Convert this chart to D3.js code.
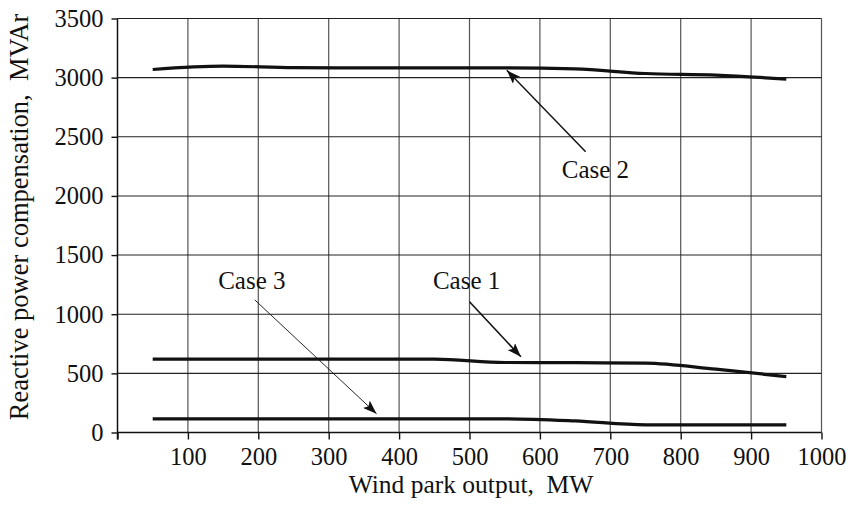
<!DOCTYPE html>
<html>
<head>
<meta charset="utf-8">
<script src="https://cdn.jsdelivr.net/npm/d3@7/dist/d3.min.js"></script>
<style>
  html, body { margin: 0; padding: 0; background: #fff; }
  svg { display: block; }
  text { font-family: "Liberation Serif", "Times New Roman", serif; fill: #111; }
</style>
</head>
<body>
<svg id="chart" width="851" height="510"></svg>
<script>
// ---- data ----
const windOutput = [50, 150, 250, 350, 450, 550, 650, 750, 850, 950];
const case1 = [620, 620, 620, 620, 620, 592, 590, 586, 535, 473];
const case2 = [3069, 3097, 3085, 3083, 3083, 3083, 3074, 3035, 3022, 2987];
const case3 = [116, 116, 116, 116, 116, 116, 98, 65, 65, 65];
const xTicks = [100, 200, 300, 400, 500, 600, 700, 800, 900, 1000];
const yTicks = [0, 500, 1000, 1500, 2000, 2500, 3000, 3500];
const xTitle = "Wind park output,  MW";
const yTitle = "Reactive power compensation,  MVAr";
// annotations: label, text anchor [x,y], arrow from [x,y], arrow to [x,y] (data units)
const annotations = [
  { label: "Case 2", text: [631, 2151], from: [665, 2373], to: [553, 3062], w: 1.5 },
  { label: "Case 3", text: [143, 1214], from: [195, 1121], to: [368, 158], w: 0.9 },
  { label: "Case 1", text: [448, 1214], from: [500, 1106], to: [573, 640], w: 1.6 }
];

// ---- layout ----
const svg = d3.select("#chart");
const x = d3.scaleLinear().domain([0, 1000]).range([117.5, 821.5]);
const y = d3.scaleLinear().domain([0, 3500]).range([432.5, 18.5]);

// gridlines
svg.append("g").selectAll("line.v").data(xTicks).join("line")
  .attr("x1", d => x(d)).attr("x2", d => x(d))
  .attr("y1", y(0)).attr("y2", y(3500))
  .attr("stroke", "#555").attr("stroke-width", 1.2);
svg.append("g").selectAll("line.h").data(yTicks.filter(d => d > 0)).join("line")
  .attr("x1", x(0)).attr("x2", x(1000))
  .attr("y1", d => y(d)).attr("y2", d => y(d))
  .attr("stroke", "#222").attr("stroke-width", 1.1);

// axes
const xAxis = svg.append("g").attr("transform", `translate(0,${y(0)})`)
  .call(d3.axisBottom(x).tickValues([0].concat(xTicks)).tickSize(7).tickPadding(8)
    .tickFormat(d => d === 0 ? "" : d3.format("d")(d)));
const yAxis = svg.append("g").attr("transform", `translate(${x(0)},0)`)
  .call(d3.axisLeft(y).tickValues(yTicks).tickSize(6).tickPadding(8).tickFormat(d3.format("d")));
[xAxis, yAxis].forEach(g => {
  g.select(".domain").remove();
  g.selectAll(".tick line").attr("stroke", "#111").attr("stroke-width", 1.4);
  g.selectAll(".tick text").style("font-family", "Liberation Serif, serif")
    .style("font-size", "24.5px").attr("fill", "#111");
});
svg.append("line").attr("x1", x(0)).attr("x2", x(0)).attr("y1", y(3500)).attr("y2", y(0) + 7)
  .attr("stroke", "#111").attr("stroke-width", 1.5);
svg.append("line").attr("x1", x(0)).attr("x2", x(1000)).attr("y1", y(0)).attr("y2", y(0))
  .attr("stroke", "#111").attr("stroke-width", 1.5);

// axis titles
svg.append("text").attr("x", 471).attr("y", 493).attr("text-anchor", "middle")
  .style("font-size", "25.5px").style("white-space", "pre").text(xTitle);
svg.append("text").attr("transform", "translate(28,217) rotate(-90)").attr("text-anchor", "middle")
  .style("font-size", "26.5px").style("white-space", "pre").text(yTitle);

// lines
const line = d3.line().x((d, i) => x(windOutput[i])).y(d => y(d)).curve(d3.curveMonotoneX);
[case1, case2, case3].forEach(s => {
  svg.append("path").datum(s).attr("d", line)
    .attr("fill", "none").attr("stroke", "#111").attr("stroke-width", 3.2)
    .attr("stroke-linecap", "butt");
});

// arrowheads
const defs = svg.append("defs");
defs.append("marker").attr("id", "ah").attr("viewBox", "0 0 14 10")
  .attr("refX", 14).attr("refY", 5).attr("markerWidth", 14).attr("markerHeight", 10)
  .attr("markerUnits", "userSpaceOnUse").attr("orient", "auto")
  .append("path").attr("d", "M0,0 L14,5 L0,10 L3,5 Z").attr("fill", "#111");

annotations.forEach(a => {
  svg.append("line")
    .attr("x1", x(a.from[0])).attr("y1", y(a.from[1]))
    .attr("x2", x(a.to[0])).attr("y2", y(a.to[1]))
    .attr("stroke", "#111").attr("stroke-width", a.w).attr("marker-end", "url(#ah)");
  svg.append("text").attr("x", x(a.text[0])).attr("y", y(a.text[1]))
    .style("font-size", "25px").text(a.label);
});
</script>
</body>
</html>
